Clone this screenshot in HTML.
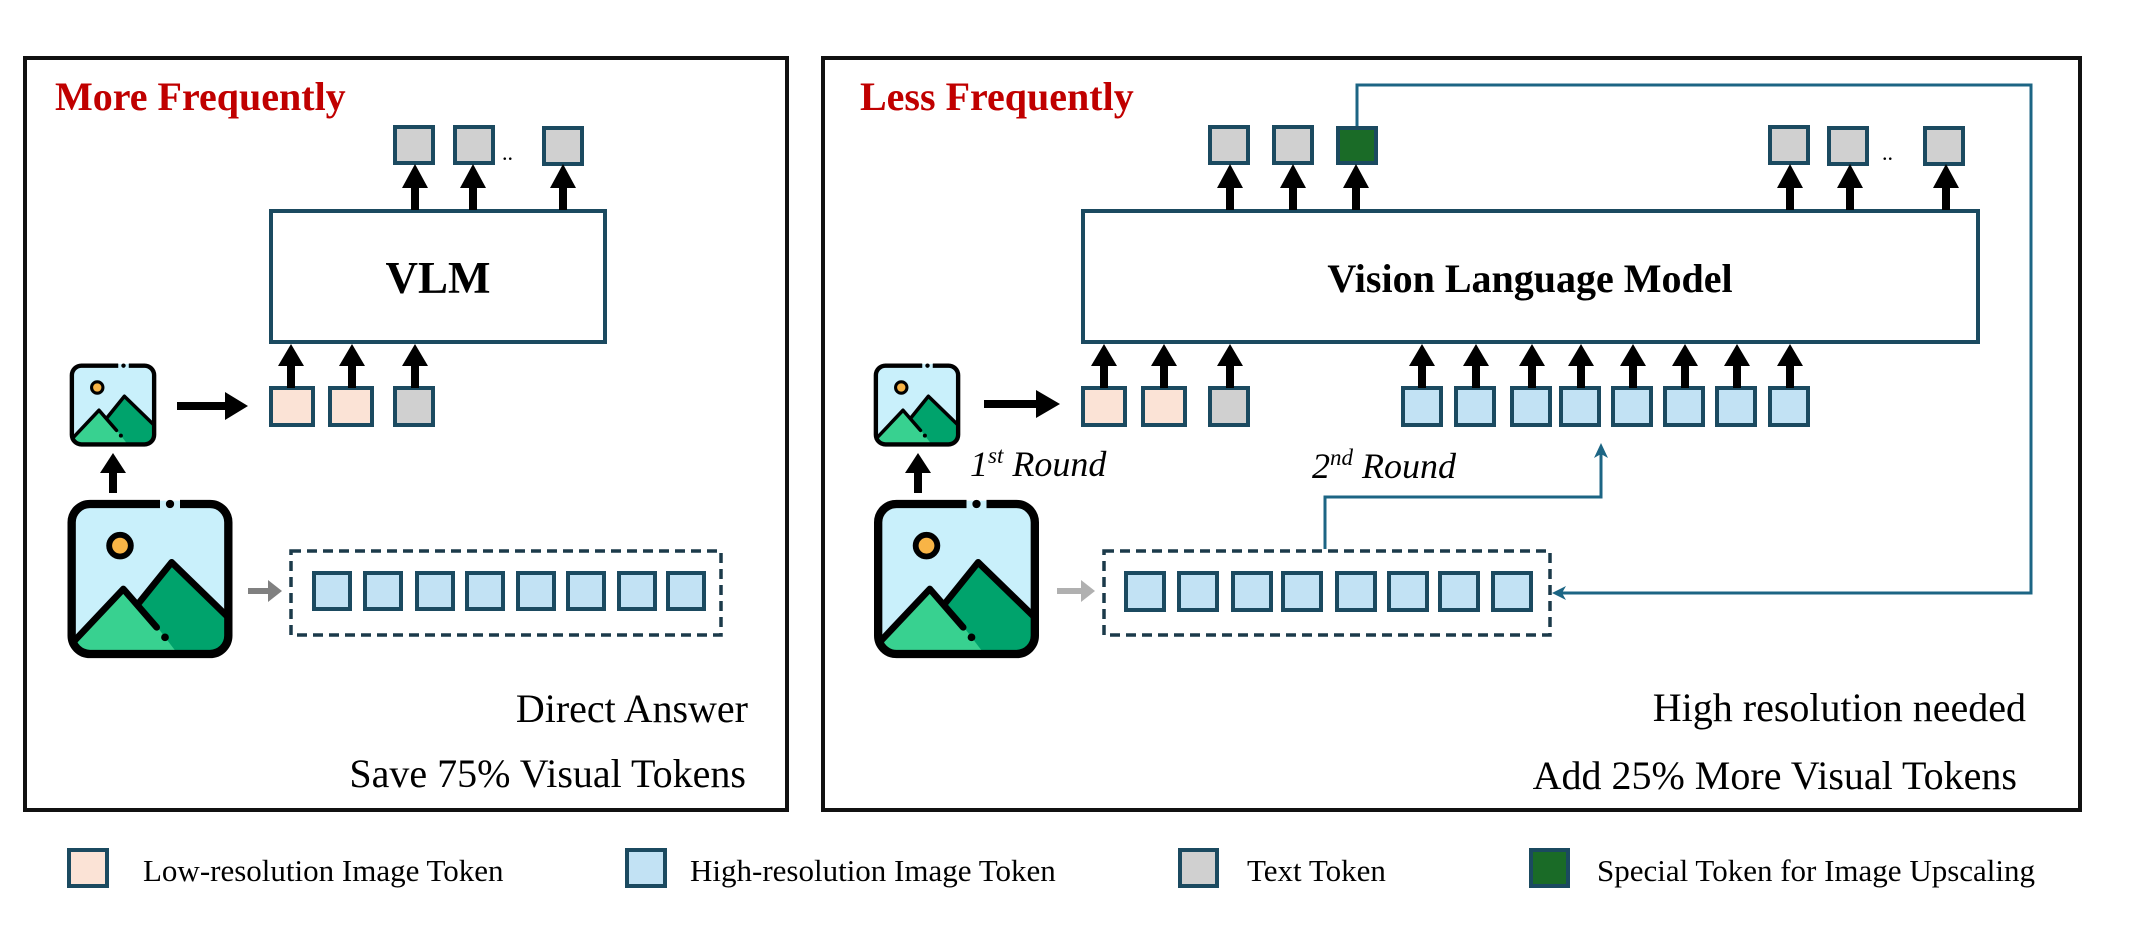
<!DOCTYPE html>
<html><head><meta charset="utf-8"><style>
html,body{margin:0;padding:0;background:#fff;}
svg{display:block;}
text{font-family:"Liberation Serif",serif;}
</style></head><body>
<svg width="2140" height="948" viewBox="0 0 2140 948" xmlns="http://www.w3.org/2000/svg">
<defs>
<clipPath id="ic"><rect x="5" y="5" width="90" height="86" rx="9"/></clipPath>
<symbol id="img" viewBox="0 0 100 96">
  <rect x="3" y="3" width="94" height="90" rx="11" fill="#c9f0fb"/>
  <g clip-path="url(#ic)">
    <polygon points="42,64 63,38 100,74 100,100 50,100" fill="#00a36c" stroke="#000" stroke-width="4" stroke-linejoin="round"/>
    <polygon points="0,96 0,90 34,54 56,79 72,100" fill="#38d190"/>
    <polyline points="0,90 34,54 54,77" fill="none" stroke="#000" stroke-width="4" stroke-linejoin="round" stroke-linecap="round"/>
  </g>
  <circle cx="59" cy="83" r="2.3" fill="#000"/>
  <circle cx="32" cy="28" r="6.5" fill="#f8b446" stroke="#000" stroke-width="3.5"/>
  <rect x="3" y="3" width="94" height="90" rx="11" fill="none" stroke="#000" stroke-width="5"/>
  <rect x="56" y="0" width="12" height="7" fill="#c9f0fb"/>
  <rect x="56" y="0" width="12" height="1" fill="#fff"/>
  <circle cx="62" cy="3" r="2.5" fill="#000"/>
</symbol>
</defs>

<rect x="25" y="58" width="762" height="752" fill="none" stroke="#111" stroke-width="4"/>
<rect x="823" y="58" width="1257" height="752" fill="none" stroke="#111" stroke-width="4"/>

<text x="55" y="110" font-size="40" font-weight="bold" fill="#c00000">More Frequently</text>
<text x="860" y="110" font-size="40" font-weight="bold" fill="#c00000">Less Frequently</text>

<g stroke="#1b4a60" stroke-width="4">
<rect x="395" y="127" width="38" height="36" fill="#d0d0d0"/>
<rect x="455" y="127" width="38" height="36" fill="#d0d0d0"/>
<rect x="544" y="128" width="38" height="36" fill="#d0d0d0"/>
<rect x="271" y="211" width="334" height="131" fill="#fff"/>
<rect x="271" y="388" width="42" height="37" fill="#fbe3d6"/>
<rect x="330" y="388" width="42" height="37" fill="#fbe3d6"/>
<rect x="395" y="388" width="38" height="37" fill="#d0d0d0"/>
<rect x="314" y="573" width="36" height="36" fill="#c2e2f4"/>
<rect x="365" y="573" width="36" height="36" fill="#c2e2f4"/>
<rect x="417" y="573" width="36" height="36" fill="#c2e2f4"/>
<rect x="467" y="573" width="36" height="36" fill="#c2e2f4"/>
<rect x="518" y="573" width="36" height="36" fill="#c2e2f4"/>
<rect x="568" y="573" width="36" height="36" fill="#c2e2f4"/>
<rect x="619" y="573" width="36" height="36" fill="#c2e2f4"/>
<rect x="668" y="573" width="36" height="36" fill="#c2e2f4"/>

<rect x="1210" y="127" width="38" height="36" fill="#d0d0d0"/>
<rect x="1274" y="127" width="38" height="36" fill="#d0d0d0"/>
<rect x="1338" y="128" width="38" height="35" fill="#1a6b27"/>
<rect x="1770" y="127" width="38" height="36" fill="#d0d0d0"/>
<rect x="1829" y="128" width="38" height="36" fill="#d0d0d0"/>
<rect x="1925" y="128" width="38" height="36" fill="#d0d0d0"/>
<rect x="1083" y="211" width="895" height="131" fill="#fff"/>
<rect x="1083" y="388" width="42" height="37" fill="#fbe3d6"/>
<rect x="1143" y="388" width="42" height="37" fill="#fbe3d6"/>
<rect x="1210" y="388" width="38" height="37" fill="#d0d0d0"/>
<rect x="1403" y="388" width="38" height="37" fill="#c2e2f4"/>
<rect x="1456" y="388" width="38" height="37" fill="#c2e2f4"/>
<rect x="1512" y="388" width="38" height="37" fill="#c2e2f4"/>
<rect x="1561" y="388" width="38" height="37" fill="#c2e2f4"/>
<rect x="1613" y="388" width="38" height="37" fill="#c2e2f4"/>
<rect x="1665" y="388" width="38" height="37" fill="#c2e2f4"/>
<rect x="1717" y="388" width="38" height="37" fill="#c2e2f4"/>
<rect x="1770" y="388" width="38" height="37" fill="#c2e2f4"/>
<rect x="1126" y="573" width="38" height="37" fill="#c2e2f4"/>
<rect x="1179" y="573" width="38" height="37" fill="#c2e2f4"/>
<rect x="1233" y="573" width="38" height="37" fill="#c2e2f4"/>
<rect x="1283" y="573" width="38" height="37" fill="#c2e2f4"/>
<rect x="1337" y="573" width="38" height="37" fill="#c2e2f4"/>
<rect x="1389" y="573" width="38" height="37" fill="#c2e2f4"/>
<rect x="1440" y="573" width="38" height="37" fill="#c2e2f4"/>
<rect x="1493" y="573" width="38" height="37" fill="#c2e2f4"/>

<rect x="69" y="850" width="38" height="36" fill="#fbe3d6"/>
<rect x="627" y="850" width="38" height="36" fill="#c2e2f4"/>
<rect x="1180" y="850" width="37" height="36" fill="#d0d0d0"/>
<rect x="1531" y="850" width="37" height="36" fill="#1a6b27"/>
</g>

<rect x="291" y="551" width="430" height="84" fill="none" stroke="#1b3a4a" stroke-width="3.5" stroke-dasharray="10,6"/>
<rect x="1104" y="551" width="446" height="84" fill="none" stroke="#1b3a4a" stroke-width="3.5" stroke-dasharray="10,6"/>

<text x="502" y="160" font-size="22" fill="#000">..</text>
<text x="1882" y="160" font-size="22" fill="#000">..</text>

<g fill="#000">
<path d="M411,210 v-22 h-9 l13,-24 l13,24 h-9 v22z"/>
<path d="M469,210 v-22 h-9 l13,-24 l13,24 h-9 v22z"/>
<path d="M559,210 v-22 h-9 l13,-24 l13,24 h-9 v22z"/>
<path d="M287,388 v-22 h-9 l13,-22 l13,22 h-9 v22z"/>
<path d="M348,388 v-22 h-9 l13,-22 l13,22 h-9 v22z"/>
<path d="M411,388 v-22 h-9 l13,-22 l13,22 h-9 v22z"/>
<path d="M109,493 v-20 h-9 l13,-20 l13,20 h-9 v20z"/>
<path d="M914,493 v-20 h-9 l13,-20 l13,20 h-9 v20z"/>

<path d="M1226,210 v-22 h-9 l13,-24 l13,24 h-9 v22z"/>
<path d="M1289,210 v-22 h-9 l13,-24 l13,24 h-9 v22z"/>
<path d="M1352,210 v-22 h-9 l13,-24 l13,24 h-9 v22z"/>
<path d="M1786,210 v-22 h-9 l13,-24 l13,24 h-9 v22z"/>
<path d="M1846,210 v-22 h-9 l13,-24 l13,24 h-9 v22z"/>
<path d="M1942,210 v-22 h-9 l13,-24 l13,24 h-9 v22z"/>

<path d="M1100,388 v-22 h-9 l13,-22 l13,22 h-9 v22z"/>
<path d="M1160,388 v-22 h-9 l13,-22 l13,22 h-9 v22z"/>
<path d="M1226,388 v-22 h-9 l13,-22 l13,22 h-9 v22z"/>
<path d="M1418,388 v-22 h-9 l13,-22 l13,22 h-9 v22z"/>
<path d="M1472,388 v-22 h-9 l13,-22 l13,22 h-9 v22z"/>
<path d="M1528,388 v-22 h-9 l13,-22 l13,22 h-9 v22z"/>
<path d="M1577,388 v-22 h-9 l13,-22 l13,22 h-9 v22z"/>
<path d="M1629,388 v-22 h-9 l13,-22 l13,22 h-9 v22z"/>
<path d="M1681,388 v-22 h-9 l13,-22 l13,22 h-9 v22z"/>
<path d="M1733,388 v-22 h-9 l13,-22 l13,22 h-9 v22z"/>
<path d="M1786,388 v-22 h-9 l13,-22 l13,22 h-9 v22z"/>

<path d="M177,402 h48 v-10 l23,14 l-23,14 v-10 h-48z"/>
<path d="M984,400 h52 v-10 l24,14 l-24,14 v-10 h-52z"/>
</g>
<path d="M248,588 h20 v-8 l14,11 l-14,11 v-8 h-20z" fill="#808080"/>
<path d="M1057,588 h24 v-8 l14,11 l-14,11 v-8 h-24z" fill="#b0b0b0"/>

<g fill="none" stroke="#1c6584" stroke-width="3">
<path d="M1325,549 V497 H1601 V448"/>
<path d="M1357,126 V85 H2031 V593 H1556"/>
</g>
<path d="M1594,458 L1601,443 L1608,458 L1601,454z" fill="#1c6584"/>
<path d="M1566,586 L1552,593 L1566,600 L1562,593z" fill="#1c6584"/>

<use href="#img" x="68" y="363" width="90" height="84"/>
<use href="#img" x="66" y="499" width="168" height="160"/>
<use href="#img" x="872" y="363" width="90" height="84"/>
<use href="#img" x="869" y="499" width="175" height="160"/>

<text x="438" y="293" font-size="45" font-weight="bold" text-anchor="middle">VLM</text>
<text x="1530" y="292" font-size="40" font-weight="bold" text-anchor="middle">Vision Language Model</text>

<text x="970" y="476" font-size="36" font-style="italic">1<tspan font-size="23" dy="-13">st</tspan><tspan dy="13"> Round</tspan></text>
<text x="1312" y="478" font-size="36" font-style="italic">2<tspan font-size="23" dy="-13">nd</tspan><tspan dy="13"> Round</tspan></text>

<text x="748" y="722" font-size="40" text-anchor="end">Direct Answer</text>
<text x="746" y="787" font-size="40" text-anchor="end">Save 75% Visual Tokens</text>
<text x="2026" y="721" font-size="40" text-anchor="end">High resolution needed</text>
<text x="2017" y="789" font-size="40" text-anchor="end">Add 25% More Visual Tokens</text>

<text x="143" y="881" font-size="31">Low-resolution Image Token</text>
<text x="690" y="881" font-size="31">High-resolution Image Token</text>
<text x="1247" y="881" font-size="31">Text Token</text>
<text x="1597" y="881" font-size="31">Special Token for Image Upscaling</text>
</svg>
</body></html>
